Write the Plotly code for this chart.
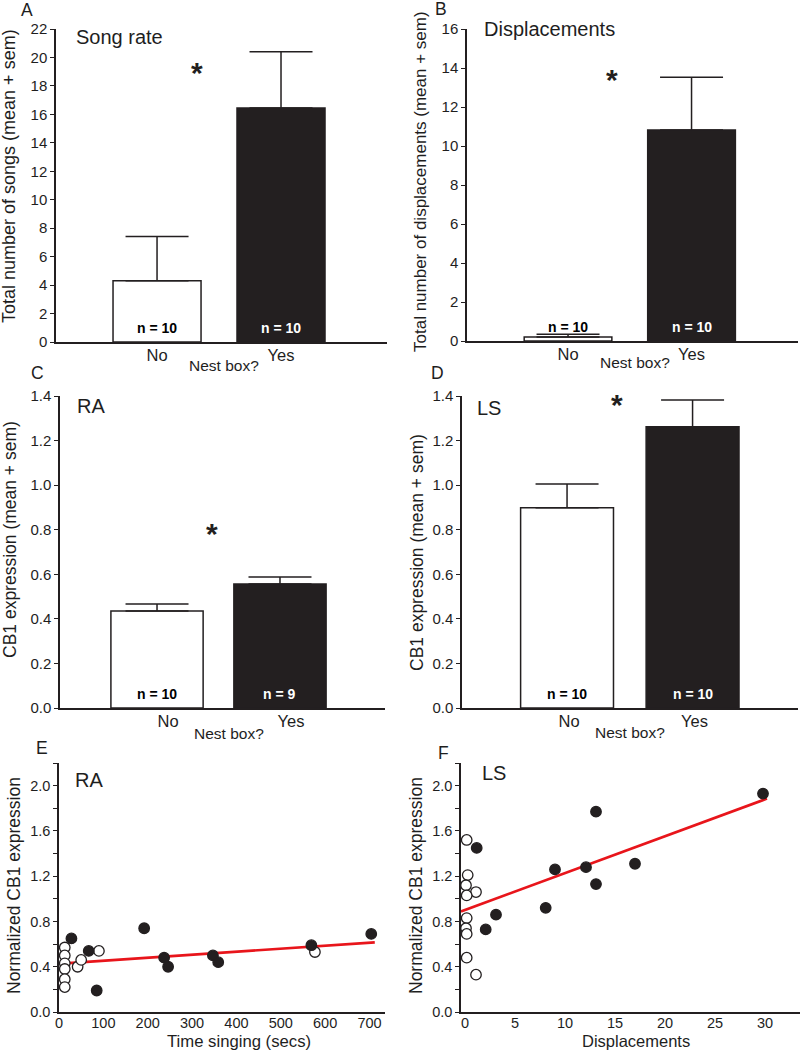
import plotly.graph_objects as go

# ---------------- data ----------------
groups = ["No", "Yes"]
group_pos = [0, 1]
n_labels_A = ["n = 10", "n = 10"]
n_labels_B = ["n = 10", "n = 10"]
n_labels_C = ["n = 10", "n = 9"]
n_labels_D = ["n = 10", "n = 10"]

song_mean = [4.3, 16.45]
song_top = [7.42, 20.4]
disp_mean = [0.2, 10.82]
disp_top = [0.35, 13.52]
ra_mean = [0.435, 0.556]
ra_top = [0.467, 0.588]
ls_mean = [0.899, 1.262]
ls_top = [1.005, 1.382]

star_A = (0.32, 19.1)
star_B = (0.36, 13.5)
star_C = (0.45, 0.794)
star_D = (0.40, 1.369)

# Panel E: RA CB1 vs time singing
e_no_x = [13, 13, 13, 13, 13, 13, 42, 50, 90, 577]
e_no_y = [0.57, 0.50, 0.43, 0.38, 0.29, 0.22, 0.40, 0.46, 0.54, 0.53]
e_yes_x = [28, 67, 85, 192, 237, 246, 347, 359, 569, 704]
e_yes_y = [0.65, 0.54, 0.19, 0.74, 0.48, 0.40, 0.50, 0.44, 0.59, 0.69]
e_fit_x = [13, 712]
e_fit_y = [0.43, 0.615]

# Panel F: LS CB1 vs displacements
f_no_x = [0.17, 0.27, 0.1, 1.1, 0.17, 0.17, 0.1, 0.17, 0.17, 1.1]
f_no_y = [1.52, 1.21, 1.12, 1.06, 1.03, 0.83, 0.74, 0.69, 0.48, 0.33]
f_yes_x = [29.8, 13.1, 1.17, 9.0, 12.1, 17.0, 13.1, 8.07, 3.1, 2.07]
f_yes_y = [1.93, 1.77, 1.45, 1.26, 1.28, 1.31, 1.13, 0.92, 0.86, 0.73]
f_fit_x = [-0.4, 30.2]
f_fit_y = [0.888, 1.885]

# ---------------- style ----------------
W, H = 800, 1050
FONT = "Liberation Sans, Arial, sans-serif"
INK = "#231f20"
TXT = "#1e1e1e"


def fx(px):
    return px / W


def fy(py):
    return 1 - py / H


fig = go.Figure()

panels = [
    ("", (56, 387), (29, 342), [-0.815, 1.855], 0.71, song_mean, song_top, n_labels_A, [0, 22], 2, star_A, 0),
    ("2", (467, 798), (29, 341), [-0.818, 1.862], 0.71, disp_mean, disp_top, n_labels_B, [0, 16], 2, star_B, 0),
    ("3", (60, 385), (396, 708), [-0.789, 1.854], 0.75, ra_mean, ra_top, n_labels_C, [0, 1.4], 0.2, star_C, 11),
    ("4", (462, 798), (396, 708), [-0.837, 1.84], 0.74, ls_mean, ls_top, n_labels_D, [0, 1.4], 0.2, star_D, 2),
]

annotations = []
layout_axes = {}

for key, xd, yd, xr, bw, means, tops, nl, yr, dt, star, lshift in panels:
    xa = "x" + key
    ya = "y" + key
    for i in range(2):
        fig.add_trace(go.Bar(
            x=[group_pos[i]], y=[means[i]], width=bw,
            xaxis=xa, yaxis=ya,
            marker=dict(color="white" if i == 0 else INK,
                        line=dict(color=INK, width=1.5)),
            error_y=dict(type="data", symmetric=False,
                         array=[tops[i] - means[i]], arrayminus=[0],
                         color=INK, thickness=1.5, width=31.5),
            showlegend=False, hoverinfo="skip",
        ))
        annotations.append(dict(
            x=group_pos[i], y=0, xref=xa, yref=ya, text="<b>" + nl[i] + "</b>",
            showarrow=False, yanchor="bottom", yshift=4,
            font=dict(family=FONT, size=14, color="black" if i == 0 else "white"),
        ))
    annotations.append(dict(
        x=star[0], y=star[1], xref=xa, yref=ya, text="<b>*</b>", showarrow=False,
        yanchor="middle", yshift=-2, font=dict(family=FONT, size=30, color=INK),
    ))
    layout_axes["xaxis" + key] = dict(
        domain=[fx(xd[0]), fx(xd[1])], range=xr, anchor=ya, automargin=False,
        tickvals=group_pos, ticktext=groups, ticks="",
        showline=True, linecolor=INK, linewidth=1.5, showgrid=False, zeroline=False,
        tickfont=dict(family=FONT, size=16.5, color=TXT),
        ticklabelshift=lshift, ticklabelstandoff=-3,
    )
    layout_axes["yaxis" + key] = dict(
        domain=[fy(yd[1]), fy(yd[0])], range=yr, anchor=xa, automargin=False,
        dtick=dt, tick0=0, ticks="outside", ticklen=4, tickwidth=1.2, tickcolor=INK,
        tickformat=".1f" if dt < 1 else "d",
        showline=True, linecolor=INK, linewidth=1.5, showgrid=False, zeroline=False,
        tickfont=dict(family=FONT, size=15, color=TXT),
    )

# scatter panels
scatter_panels = [
    ("5", (59, 385), (763, 1012), [0, 735], 100, e_no_x, e_no_y, e_yes_x, e_yes_y, e_fit_x, e_fit_y),
    ("6", (461, 800), (763, 1012), [-0.4, 33.5], 5, f_no_x, f_no_y, f_yes_x, f_yes_y, f_fit_x, f_fit_y),
]
ytv = [round(0.2 * k, 1) for k in range(12)]
ytt = ["%.1f" % v if k % 2 == 0 else "" for k, v in enumerate(ytv)]
for key, xd, yd, xr, xdt, nx, ny, yx, yy, lx, ly in scatter_panels:
    xa = "x" + key
    ya = "y" + key
    fig.add_trace(go.Scatter(x=lx, y=ly, mode="lines", xaxis=xa, yaxis=ya,
                             line=dict(color="#e8151b", width=2.6),
                             showlegend=False, hoverinfo="skip"))
    fig.add_trace(go.Scatter(x=nx, y=ny, mode="markers", xaxis=xa, yaxis=ya,
                             marker=dict(size=10.5, color="white", line=dict(color=INK, width=1.3)),
                             showlegend=False, hoverinfo="skip"))
    fig.add_trace(go.Scatter(x=yx, y=yy, mode="markers", xaxis=xa, yaxis=ya,
                             marker=dict(size=10.5, color=INK, line=dict(color=INK, width=1.3)),
                             showlegend=False, hoverinfo="skip"))
    layout_axes["xaxis" + key] = dict(
        domain=[fx(xd[0]), fx(xd[1])], range=xr, anchor=ya, automargin=False,
        dtick=xdt, tick0=0, ticks="", ticklabelstandoff=-3,
        showline=True, linecolor=INK, linewidth=1.5, showgrid=False, zeroline=False,
        tickfont=dict(family=FONT, size=14.5, color=TXT),
    )
    layout_axes["yaxis" + key] = dict(
        domain=[fy(yd[1]), fy(yd[0])], range=[0, 2.2], anchor=xa, automargin=False,
        tickvals=ytv, ticktext=ytt, ticks="outside", ticklen=4, tickwidth=1.2, tickcolor=INK,
        showline=True, linecolor=INK, linewidth=1.5, showgrid=False, zeroline=False,
        tickfont=dict(family=FONT, size=14.5, color=TXT),
    )


def txt(x, y, s, size, angle=0, xanchor="center"):
    annotations.append(dict(x=fx(x), y=fy(y), xref="paper", yref="paper", text=s,
                            showarrow=False, xanchor=xanchor, yanchor="middle",
                            textangle=angle, font=dict(family=FONT, size=size, color=TXT)))


# panel letters
txt(27, 10, "A", 17.5)
txt(441, 9, "B", 17.5)
txt(37, 373, "C", 17.5)
txt(437, 373, "D", 17.5)
txt(42, 748, "E", 17.5)
txt(443, 753, "F", 17.5)
# inside titles
txt(74, 37, "Song rate", 20, xanchor="left")
txt(482, 29, "Displacements", 20, xanchor="left")
txt(75, 406, "RA", 20, xanchor="left")
txt(475, 408, "LS", 20, xanchor="left")
txt(73, 780, "RA", 20, xanchor="left")
txt(480, 773, "LS", 20, xanchor="left")
# y-axis titles
txt(9, 176, "Total number of songs (mean + sem)", 18, angle=-90)
txt(420, 182, "Total number of displacements (mean + sem)", 17, angle=-90)
txt(10, 540, "CB1 expression (mean + sem)", 17.5, angle=-90)
txt(417, 553, "CB1 expression (mean + sem)", 17.5, angle=-90)
txt(14, 886, "Normalized CB1 expression", 17.5, angle=-90)
txt(416, 886, "Normalized CB1 expression", 17.5, angle=-90)
# x-axis titles
txt(224, 366, "Nest box?", 15.5)
txt(635, 363, "Nest box?", 15.5)
txt(229, 733, "Nest box?", 15.5)
txt(630, 732, "Nest box?", 15.5)
txt(239, 1041, "Time singing (secs)", 16.7)
txt(636, 1041, "Displacements", 16.5)

fig.update_layout(
    width=W, height=H,
    margin=dict(l=0, r=0, t=0, b=0, pad=0, autoexpand=False),
    paper_bgcolor="white", plot_bgcolor="white",
    font=dict(family=FONT, color=TXT),
    annotations=annotations,
    barmode="overlay",
    **layout_axes,
)

fig.write_html("out.html", config={"displayModeBar": False},
               post_script="document.body.style.margin='0';document.body.style.overflow='hidden';")
